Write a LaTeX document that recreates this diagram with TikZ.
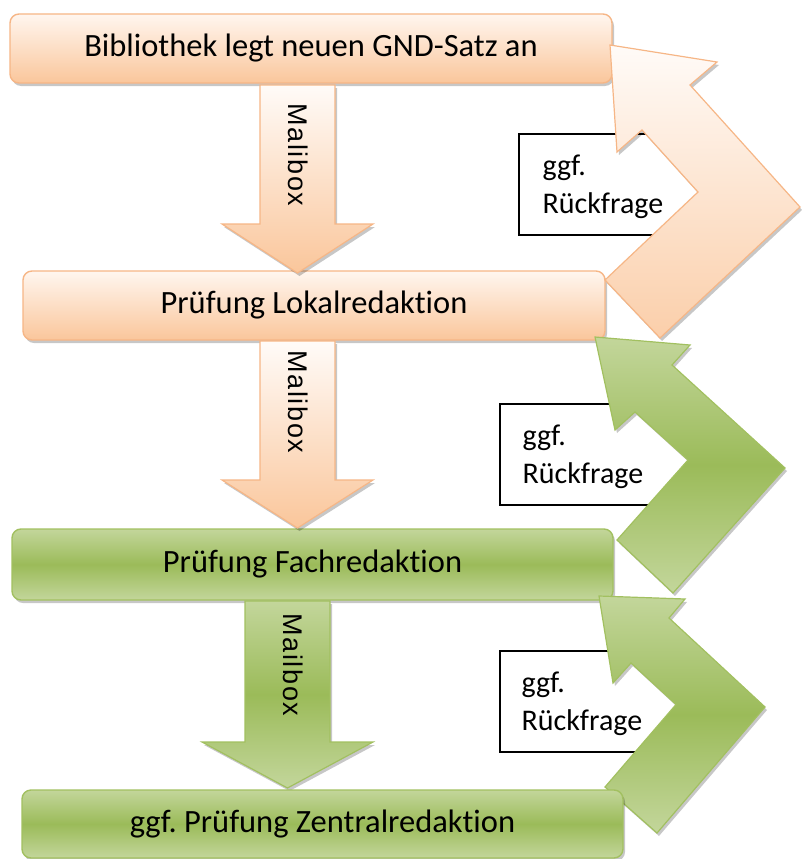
\documentclass[tikz,border=0pt]{standalone}
\usepackage{fontspec}
\setmainfont{Carlito}[Ligatures=NoCommon]
\newfontfamily\arialf[LetterSpace=6]{Liberation Sans}
\usetikzlibrary{shadows}
\frenchspacing
\definecolor{olight}{HTML}{FFF6EF}
\definecolor{owhite}{HTML}{FFFBF8}
\definecolor{odark}{HTML}{FAC69B}
\definecolor{oborder}{HTML}{F6B686}
\definecolor{glight}{HTML}{C3D69B}
\definecolor{gmid}{HTML}{9BBB59}
\definecolor{gborder}{HTML}{A2C060}
\tikzset{
  shad/.style={drop shadow={shadow xshift=2pt,shadow yshift=-3pt,opacity=.22,fill=black}},
  obox/.style={shad,rounded corners=9pt,draw=oborder,line width=1.4pt,top color=olight,bottom color=odark,
    font=\fontsize{32.5}{38}\selectfont,text=black,inner sep=0pt},
  gbox/.style={shad,rounded corners=9pt,draw=gborder,line width=1.4pt,top color=glight,bottom color=glight,middle color=gmid,
    font=\fontsize{32.5}{38}\selectfont,text=black,inner sep=0pt},
  rqbox/.style={draw=black,line width=1.2pt,fill=white,inner sep=0pt},
  rqtext/.style={font=\fontsize{30}{38}\selectfont,align=left,inner sep=0pt,anchor=west,text=black},
  oarrow/.style={shad,draw=oborder,line width=1.2pt,top color=owhite,bottom color=odark},
  garrow/.style={shad,draw=gborder,line width=1.2pt,top color=glight,bottom color=glight,middle color=gmid},
  mtext/.style={font=\arialf\fontsize{27}{30}\selectfont,rotate=-90,inner sep=0pt,text=black}
}
\begin{document}
\begin{tikzpicture}[x=1pt,y=-1pt]
\useasboundingbox (0,0) rectangle (801,859);

% Rueckfrage boxes
\node[rqbox,minimum width=193pt,minimum height=101pt] (rA) at (615.5,184.5) {};
\node[rqtext] (tA) at ([xshift=24pt,yshift=-2pt]rA.west) {ggf.\\Rückfrage};
\node[rqbox,minimum width=205pt,minimum height=101pt] (rB) at (602.5,454.5) {};
\node[rqtext] (tB) at ([xshift=23pt,yshift=-2pt]rB.west) {ggf.\\Rückfrage};
\node[rqbox,minimum width=190pt,minimum height=101pt] (rC) at (595,701.5) {};
\node[rqtext] (tC) at ([xshift=22pt,yshift=-2pt]rC.west) {ggf.\\Rückfrage};

% main boxes
\node[obox,minimum width=602pt,minimum height=69pt] (b1) at (311,48.5) {Bibliothek legt neuen GND-Satz an};
\node[obox,minimum width=582pt,minimum height=69pt] (b2) at (314,305.5) {Prüfung Lokalredaktion};
\node[gbox,minimum width=601pt,minimum height=71pt] (b3) at (312.5,564.5) {Prüfung Fachredaktion};

% down arrows
\path[oarrow] (260,85) -- (335,85) -- (335,224) -- (373,224) -- (297.5,273) -- (222,224) -- (260,224) -- cycle;
\node[mtext] (m1) at (298,155) {Malibox};
\path[oarrow] (260,341) -- (335,341) -- (335,480) -- (373,480) -- (297.5,528) -- (222,480) -- (260,480) -- cycle;
\node[mtext] (m2) at (298,402) {Malibox};
\path[garrow] (245,601) -- (330,601) -- (330,742) -- (373,742) -- (287.5,788) -- (202,742) -- (245,742) -- cycle;
\node[mtext] (m3) at (293,665) {Mailbox};

% return chevrons
\path[oarrow,top color=owhite,bottom color=odark!85!white]
  (610,45) -- (717,62) -- (690,85) -- (800,207) -- (660,338) -- (605,280) -- (698,192) -- (642,130) -- (617,152) -- cycle;
\path[garrow]
  (595,337) -- (690,345) -- (672,365) -- (785,468) -- (673,593) -- (617,540) -- (688,460) -- (635,412) -- (615,430) -- cycle;
\path[garrow]
  (599,596) -- (685,599) -- (669,618) -- (765,707) -- (657,833) -- (605,787) -- (676,704.5) -- (631,663) -- (613,683) -- cycle;

\node[gbox,minimum width=601pt,minimum height=68pt] (b4) at (322.5,824) {ggf. Prüfung Zentralredaktion};
\end{tikzpicture}
\end{document}
